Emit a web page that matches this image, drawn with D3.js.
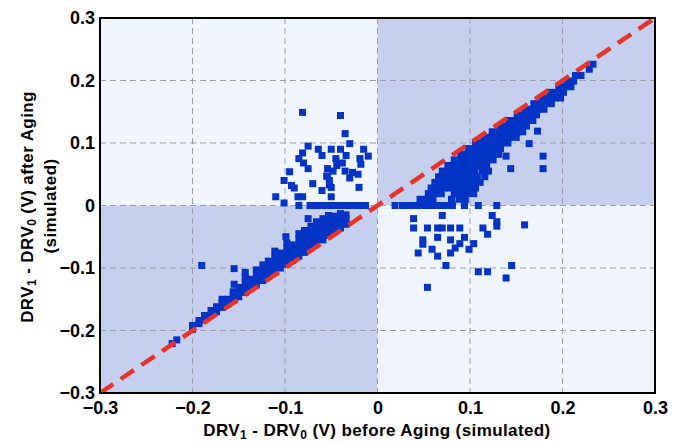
<!DOCTYPE html>
<html>
<head>
<meta charset="utf-8">
<script src="https://cdn.jsdelivr.net/npm/d3@7"></script>
<style>
  html, body { margin: 0; padding: 0; background: #ffffff; }
  svg { display: block; }
  text { font-family: "Liberation Sans", Arial, Helvetica, sans-serif; font-weight: bold; fill: #000; }
</style>
</head>
<body>
<svg id="chart" width="684" height="442"></svg>
<script>
// Axis ticks and labels
const tickValues = [-0.3, -0.2, -0.1, 0, 0.1, 0.2, 0.3];
const tickLabels = ["\u22120.3", "\u22120.2", "\u22120.1", "0", "0.1", "0.2", "0.3"];

// DRV shift pairs [before aging, after aging], grouped by region of the plot
const lowerBand = [
  [-0.222,-0.221],[-0.217,-0.215],
  [-0.200,-0.198],[-0.200,-0.192],
  [-0.193,-0.189],[-0.193,-0.184],
  [-0.187,-0.183],[-0.187,-0.176],
  [-0.180,-0.176],[-0.180,-0.168],
  [-0.174,-0.170],[-0.174,-0.162],
  [-0.168,-0.163],[-0.168,-0.155],[-0.168,-0.150],
  [-0.162,-0.158],[-0.162,-0.150],
  [-0.156,-0.152],[-0.156,-0.144],[-0.156,-0.138],
  [-0.150,-0.146],[-0.150,-0.138],[-0.150,-0.131],
  [-0.143,-0.139],[-0.143,-0.131],[-0.143,-0.123],[-0.143,-0.115],[-0.143,-0.107],
  [-0.137,-0.133],[-0.137,-0.125],[-0.137,-0.118],
  [-0.131,-0.127],[-0.131,-0.119],[-0.131,-0.111],[-0.131,-0.103],
  [-0.124,-0.120],[-0.124,-0.112],[-0.124,-0.104],[-0.124,-0.095],
  [-0.118,-0.113],[-0.118,-0.105],[-0.118,-0.097],[-0.118,-0.089],
  [-0.111,-0.107],[-0.111,-0.099],[-0.111,-0.090],[-0.111,-0.081],[-0.111,-0.073],
  [-0.105,-0.100],[-0.105,-0.092],[-0.105,-0.084],[-0.105,-0.076],
  [-0.098,-0.094],[-0.098,-0.086],[-0.098,-0.077],[-0.098,-0.068],[-0.098,-0.060],
  [-0.092,-0.088],[-0.092,-0.080],[-0.092,-0.071],[-0.092,-0.063],
  [-0.085,-0.081],[-0.085,-0.072],[-0.085,-0.063],[-0.085,-0.054],[-0.085,-0.045],
  [-0.079,-0.075],[-0.079,-0.066],[-0.079,-0.057],[-0.079,-0.048],[-0.079,-0.040],
  [-0.072,-0.068],[-0.072,-0.059],[-0.072,-0.050],[-0.072,-0.041],[-0.072,-0.033],
  [-0.066,-0.061],[-0.066,-0.052],[-0.066,-0.043],[-0.066,-0.035],[-0.066,-0.026],
  [-0.059,-0.055],[-0.059,-0.046],[-0.059,-0.037],[-0.059,-0.029],[-0.059,-0.021],
  [-0.053,-0.048],[-0.053,-0.040],[-0.053,-0.031],[-0.053,-0.023],[-0.053,-0.016],
  [-0.046,-0.042],[-0.046,-0.033],[-0.046,-0.025],[-0.046,-0.017],
  [-0.040,-0.036],[-0.040,-0.027],[-0.040,-0.019],[-0.040,-0.013],
  [-0.034,-0.030],[-0.034,-0.022],[-0.034,-0.015],
  [-0.190,-0.096],[-0.155,-0.101],[-0.155,-0.126],[-0.099,-0.050],[-0.075,-0.021]
];

const upperLeft = [
  [-0.081,0.149],[-0.040,0.144],[-0.035,0.115],[-0.030,0.099],
  [-0.075,0.095],[-0.064,0.090],[-0.050,0.090],[-0.040,0.090],[-0.015,0.090],
  [-0.081,0.084],[-0.060,0.080],[-0.034,0.080],[-0.010,0.079],
  [-0.085,0.075],[-0.045,0.075],[-0.019,0.075],
  [-0.080,0.068],[-0.038,0.068],[-0.018,0.066],
  [-0.075,0.059],[-0.054,0.059],[-0.048,0.055],[-0.095,0.054],[-0.035,0.055],
  [-0.027,0.053],[-0.021,0.050],[-0.055,0.047],[-0.030,0.044],[-0.052,0.040],
  [-0.101,0.040],[-0.093,0.032],[-0.090,0.028],[-0.070,0.035],[-0.050,0.029],
  [-0.060,0.024],[-0.020,0.029],[-0.110,0.014],[-0.086,0.014],[-0.081,0.014],
  [-0.050,0.014],[-0.054,0.047],[-0.052,0.033],[-0.044,0.064]
];

const zeroRowLeft = [
  [-0.101,0.004],[-0.085,0],[-0.073,0],[-0.067,0],[-0.061,0],[-0.055,0],[-0.049,0],
  [-0.043,0],[-0.037,0],[-0.031,0],[-0.025,0],[-0.019,0],[-0.013,0]
];

const zeroRowRight = [
  [0.019,0],[0.027,0],[0.033,0],[0.039,0],[0.045,0],[0.051,0],[0.057,0],
  [0.063,0],[0.069,0],[0.075,0],[0.081,0],[0.094,0],[0.109,0],[0.129,0]
];

const upperBand = [
  [0.046,0.010],[0.053,0.010],[0.060,0.010],[0.080,0.010],[0.088,0.010],[0.095,0.010],
  [0.055,0.019],[0.062,0.019],[0.069,0.019],[0.083,0.019],[0.090,0.019],[0.097,0.019],[0.104,0.019],
  [0.058,0.028],[0.065,0.028],[0.072,0.028],[0.078,0.028],[0.085,0.028],[0.092,0.028],[0.099,0.028],[0.106,0.028],
  [0.062,0.037],[0.069,0.037],[0.076,0.037],[0.083,0.037],[0.090,0.037],[0.097,0.037],[0.104,0.037],[0.111,0.037],
  [0.066,0.046],[0.073,0.046],[0.080,0.046],[0.087,0.046],[0.094,0.046],[0.101,0.046],[0.108,0.046],[0.116,0.046],
  [0.070,0.055],[0.077,0.055],[0.084,0.055],[0.091,0.055],[0.098,0.055],[0.105,0.055],[0.113,0.055],[0.120,0.055],
  [0.076,0.064],[0.083,0.064],[0.090,0.064],[0.097,0.064],[0.104,0.064],[0.111,0.064],[0.118,0.064],
  [0.083,0.073],[0.090,0.073],[0.097,0.073],[0.104,0.073],[0.111,0.073],[0.118,0.073],[0.125,0.073],
  [0.090,0.082],[0.097,0.082],[0.104,0.082],[0.111,0.082],[0.118,0.082],[0.125,0.082],[0.131,0.082],
  [0.098,0.091],[0.105,0.091],[0.112,0.091],[0.119,0.091],[0.126,0.091],[0.133,0.091],
  [0.106,0.100],[0.113,0.100],[0.120,0.100],[0.127,0.100],[0.134,0.100],[0.141,0.100],
  [0.115,0.109],[0.122,0.109],[0.129,0.109],[0.136,0.109],[0.143,0.109],[0.150,0.109],
  [0.124,0.118],[0.131,0.118],[0.138,0.118],[0.145,0.118],[0.152,0.118],[0.157,0.118],
  [0.133,0.127],[0.140,0.127],[0.147,0.127],[0.154,0.127],[0.161,0.127],
  [0.142,0.136],[0.149,0.136],[0.156,0.136],[0.163,0.136],[0.168,0.136],
  [0.151,0.145],[0.158,0.145],[0.165,0.145],[0.172,0.145],
  [0.160,0.154],[0.167,0.154],[0.174,0.154],[0.180,0.154],
  [0.169,0.163],[0.176,0.163],[0.183,0.163],[0.188,0.163],
  [0.178,0.172],[0.185,0.172],[0.192,0.172],[0.198,0.172],
  [0.187,0.181],[0.194,0.181],[0.201,0.181],
  [0.196,0.190],[0.203,0.190],[0.209,0.190],
  [0.205,0.199],[0.212,0.199],
  [0.214,0.208],[0.220,0.208],
  [0.229,0.218],[0.233,0.226],
  [0.173,0.119],[0.164,0.099],[0.179,0.079],[0.179,0.059],[0.139,0.079],[0.144,0.059]
];

const lowerRight = [
  [0.039,-0.021],[0.070,-0.016],[0.124,-0.016],[0.129,-0.026],[0.129,-0.033],[0.159,-0.031],
  [0.039,-0.036],[0.054,-0.036],[0.065,-0.036],[0.070,-0.036],[0.079,-0.036],[0.089,-0.036],
  [0.114,-0.036],[0.119,-0.046],[0.065,-0.051],[0.049,-0.055],[0.049,-0.062],[0.079,-0.055],
  [0.094,-0.051],[0.089,-0.061],[0.084,-0.068],[0.104,-0.061],[0.099,-0.070],[0.059,-0.070],
  [0.065,-0.081],[0.044,-0.076],[0.079,-0.076],[0.074,-0.096],[0.109,-0.106],[0.119,-0.106],
  [0.145,-0.096],[0.139,-0.116],[0.054,-0.131]
];

const groups = [lowerBand, upperLeft, zeroRowLeft, zeroRowRight, upperBand, lowerRight];
const points = groups.flat();

const svg = d3.select("#chart");
const plotLeft = 100, plotRight = 655, plotTop = 18, plotBottom = 393;

const x = d3.scaleLinear().domain([-0.3, 0.3]).range([plotLeft, plotRight]);
const y = d3.scaleLinear().domain([-0.3, 0.3]).range([plotBottom, plotTop]);

// Quadrant shading: same-sign quadrants darker
const quadrants = [
  {x0: -0.3, x1: 0, y0: 0, y1: 0.3, fill: "#eff4fd"},
  {x0: 0, x1: 0.3, y0: 0, y1: 0.3, fill: "#c6cfed"},
  {x0: -0.3, x1: 0, y0: -0.3, y1: 0, fill: "#c6cfed"},
  {x0: 0, x1: 0.3, y0: -0.3, y1: 0, fill: "#eff4fd"}
];
svg.append("g").selectAll("rect").data(quadrants).join("rect")
  .attr("x", d => x(d.x0)).attr("y", d => y(d.y1))
  .attr("width", d => x(d.x1) - x(d.x0)).attr("height", d => y(d.y0) - y(d.y1))
  .attr("fill", d => d.fill);

// Dashed grid
const inner = tickValues.slice(1, -1);
const grid = svg.append("g").attr("stroke", "#9c9eaa").attr("stroke-width", 1)
  .attr("stroke-dasharray", "6,4").attr("fill", "none");
grid.selectAll("line.v").data(inner).join("line").attr("class", "v")
  .attr("x1", d => x(d)).attr("x2", d => x(d)).attr("y1", plotTop).attr("y2", plotBottom);
grid.selectAll("line.h").data(inner).join("line").attr("class", "h")
  .attr("y1", d => y(d)).attr("y2", d => y(d)).attr("x1", plotLeft).attr("x2", plotRight);

// Scatter markers
const s = 7;
svg.append("g").attr("fill", "#0434c6").selectAll("rect").data(points).join("rect")
  .attr("x", d => x(d[0]) - s / 2).attr("y", d => y(d[1]) - s / 2)
  .attr("width", s).attr("height", s);

// y = x reference line
svg.append("line")
  .attr("x1", x(-0.3)).attr("y1", y(-0.3)).attr("x2", x(0.3)).attr("y2", y(0.3))
  .attr("stroke", "#e8332a").attr("stroke-width", 4.5).attr("stroke-dasharray", "16,9");

// Frame
svg.append("rect").attr("x", plotLeft).attr("y", plotTop)
  .attr("width", plotRight - plotLeft).attr("height", plotBottom - plotTop)
  .attr("fill", "none").attr("stroke", "#000").attr("stroke-width", 2);

// Axes (labels only; grid supplies the tick lines)
const fmt = d => tickLabels[tickValues.indexOf(d)];
const xAxis = svg.append("g").attr("transform", `translate(0,${plotBottom})`)
  .call(d3.axisBottom(x).tickValues(tickValues).tickFormat(fmt).tickSize(0).tickPadding(8));
const yAxis = svg.append("g").attr("transform", `translate(${plotLeft},0)`)
  .call(d3.axisLeft(y).tickValues(tickValues).tickFormat(fmt).tickSize(0).tickPadding(5));
[xAxis, yAxis].forEach(a => {
  a.select(".domain").remove();
  a.selectAll("text").attr("font-size", 18).attr("font-weight", "bold")
    .attr("font-family", "'Liberation Sans', Arial, sans-serif").attr("fill", "#000");
});

// Axis titles with subscripts
function title(sel, parts) {
  parts.forEach(p => {
    const t = sel.append("tspan").text(p.t);
    if (p.sub) t.attr("font-size", 12).attr("dy", 3);
    else if (p.after) t.attr("dy", -3);
  });
}
const xt = svg.append("text").attr("x", 377).attr("y", 436).attr("text-anchor", "middle")
  .attr("font-size", 17).attr("letter-spacing", 0.4);
title(xt, [{t: "DRV"}, {t: "1", sub: true}, {t: " - DRV", after: true}, {t: "0", sub: true},
  {t: " (V) before Aging (simulated)", after: true}]);

const yt = svg.append("text").attr("transform", "translate(33,207) rotate(-90)")
  .attr("text-anchor", "middle").attr("font-size", 17).attr("letter-spacing", 0.4);
title(yt, [{t: "DRV"}, {t: "1", sub: true}, {t: " - DRV", after: true}, {t: "0", sub: true},
  {t: " (V) after Aging", after: true}]);
svg.append("text").attr("transform", "translate(56,206) rotate(-90)")
  .attr("text-anchor", "middle").attr("font-size", 17).attr("letter-spacing", 0.4).text("(simulated)");
</script>
</body>
</html>
